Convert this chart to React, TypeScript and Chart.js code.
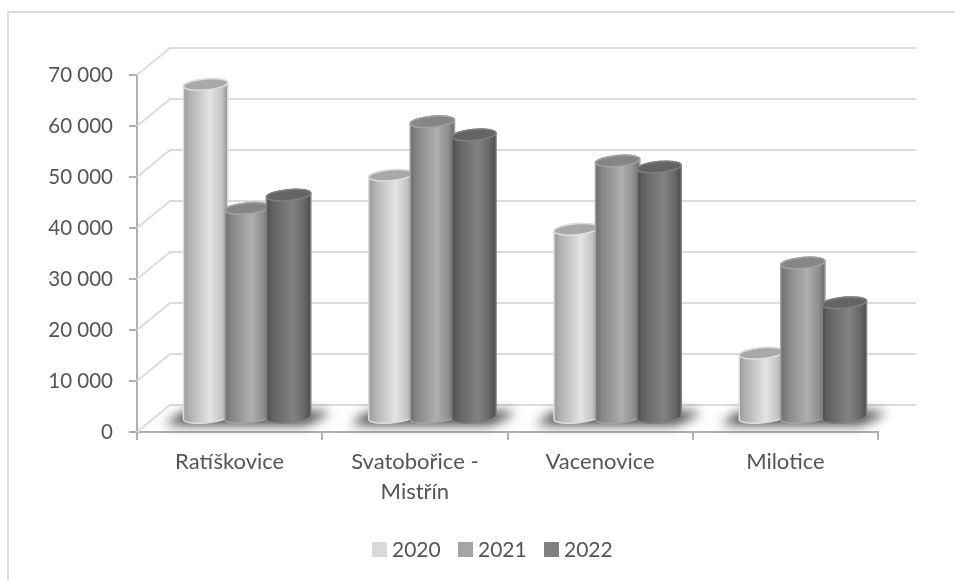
import React, { useEffect, useRef } from "react";
import { Chart, registerables } from "chart.js";

Chart.register(...registerables);

const categories = ["Ratíškovice", ["Svatobořice -", "Mistřín"], "Vacenovice", "Milotice"];
const years = ["2020", "2021", "2022"];
const values2020 = [65500, 47700, 37100, 12800];
const values2021 = [41200, 58200, 50500, 30500];
const values2022 = [43800, 55600, 49300, 22700];

const legendColors = ["#d9d9d9", "#a5a5a5", "#7f7f7f"];
const capColors = ["#a8a8a8", "#868686", "#646464"];
const rimColors = ["#dedede", "#a3a3a3", "#808080"];
const bodyStops: [number, string][][] = [
  [[0, "#9a9a9a"], [0.14, "#b0b0b0"], [0.6, "#e4e4e4"], [0.86, "#c4c4c4"], [1, "#929292"]],
  [[0, "#6c6c6c"], [0.14, "#858585"], [0.6, "#afafaf"], [0.86, "#8e8e8e"], [1, "#6a6a6a"]],
  [[0, "#4f4f4f"], [0.14, "#626262"], [0.6, "#838383"], [0.86, "#666666"], [1, "#4c4c4c"]],
];

const TEXT_COLOR = "#555555";
const DEPTH_X = 33;
const DEPTH_Y = 27;
const TILT = -0.09;
const CAP_RY = 5.5;

// Perspective walls, column shadows, cylinders and the legend row.
const cylinders = {
  id: "cylinders",
  beforeDatasetDraw() {
    return false;
  },
  beforeDatasetsDraw(chart: any) {
    const { ctx, chartArea, scales } = chart;
    ctx.save();
    ctx.strokeStyle = "#dcdcdc";
    ctx.lineWidth = 2;
    ctx.beginPath();
    ctx.moveTo(8, 580);
    ctx.lineTo(8, 12);
    ctx.lineTo(955, 12);
    ctx.stroke();
    scales.y.ticks.forEach((t: any) => {
      const y = scales.y.getPixelForValue(t.value);
      ctx.beginPath();
      ctx.moveTo(chartArea.left, y);
      ctx.lineTo(chartArea.left + DEPTH_X, y - DEPTH_Y);
      ctx.lineTo(chartArea.right + DEPTH_X + 5, y - DEPTH_Y);
      ctx.stroke();
    });
    ctx.restore();
  },
  afterDatasetsDraw(chart: any) {
    const { ctx } = chart;
    const metas = years.map((_, i) => chart.getDatasetMeta(i));
    const shiftX = DEPTH_X / 2 + 1;
    const shiftY = -DEPTH_Y / 2;

    categories.forEach((_, c) => {
      const first = metas[0].data[c];
      const last = metas[2].data[c];
      const left = first.x - first.width / 2 + shiftX;
      const right = last.x + last.width / 2 + shiftX;
      const base = first.base + shiftY;
      ctx.save();
      ctx.filter = "blur(6px)";
      ctx.fillStyle = "#333333";
      ctx.beginPath();
      ctx.moveTo(left - 20, base + 7);
      ctx.lineTo(left - 2, base - 5);
      ctx.lineTo(right + 17, base - 6);
      ctx.lineTo(right + 19, base - 3);
      ctx.lineTo(right - 4, base + 7);
      ctx.closePath();
      ctx.fill();
      ctx.restore();
    });

    categories.forEach((_, c) => {
      metas.forEach((meta: any, s: number) => {
        const bar = meta.data[c];
        const cx = bar.x + shiftX;
        const rx = bar.width / 2 + 1.5;
        const topY = bar.y + shiftY;
        const baseY = bar.base + shiftY;
        const dx = rx * Math.cos(TILT);
        const dy = rx * Math.sin(TILT);

        const grad = ctx.createLinearGradient(cx - rx, 0, cx + rx, 0);
        bodyStops[s].forEach(([o, col]) => grad.addColorStop(o, col));

        ctx.save();
        ctx.lineWidth = 1.5;
        ctx.strokeStyle = rimColors[s];
        ctx.fillStyle = grad;
        ctx.beginPath();
        ctx.moveTo(cx - dx, topY - dy);
        ctx.lineTo(cx - dx, baseY - dy);
        ctx.ellipse(cx, baseY, rx, CAP_RY, TILT, Math.PI, 0, true);
        ctx.lineTo(cx + dx, topY + dy);
        ctx.ellipse(cx, topY, rx, CAP_RY, TILT, 0, Math.PI, true);
        ctx.closePath();
        ctx.fill();
        ctx.stroke();

        ctx.fillStyle = capColors[s];
        ctx.beginPath();
        ctx.ellipse(cx, topY, rx, CAP_RY, TILT, 0, Math.PI * 2);
        ctx.fill();
        ctx.stroke();
        ctx.restore();
      });
    });

    // Legend row: swatch with the year beside it.
    ctx.save();
    ctx.font = "21px Lato";
    ctx.textBaseline = "middle";
    years.forEach((year, i) => {
      const x = 372 + i * 86;
      ctx.fillStyle = legendColors[i];
      ctx.fillRect(x, 542, 15, 15);
      ctx.fillStyle = TEXT_COLOR;
      ctx.fillText(year, x + 20, 550);
    });
    ctx.restore();
  },
};

export default function App() {
  const ref = useRef<HTMLCanvasElement>(null);

  useEffect(() => {
    document.body.style.margin = "0";
    const series = [values2020, values2021, values2022];
    const chart = new Chart(ref.current!, {
      type: "bar",
      data: {
        labels: categories as any,
        datasets: years.map((label, i) => ({
          label,
          data: series[i],
          backgroundColor: legendColors[i],
          borderWidth: 0,
          categoryPercentage: 0.672,
          barPercentage: 1,
        })),
      },
      options: {
        animation: false,
        responsive: false,
        layout: { padding: { left: 0, right: 77, top: 75, bottom: 50 } },
        plugins: {
          tooltip: { enabled: false },
          legend: { display: false },
        },
        scales: {
          x: {
            afterFit: (s: any) => {
              s.height = 98;
            },
            border: { color: "#b0b0b0", width: 2 },
            grid: { drawOnChartArea: false, color: "#b0b0b0", lineWidth: 2, tickLength: 8 },
            ticks: {
              autoSkip: false,
              maxRotation: 0,
              padding: 7,
              color: TEXT_COLOR,
              font: { family: "Lato", size: 22, lineHeight: 1.37 },
            },
          },
          y: {
            min: 0,
            max: 70000,
            afterFit: (s: any) => {
              s.width = 137;
            },
            border: { color: "#b0b0b0", width: 2 },
            grid: { drawOnChartArea: false, color: "#b0b0b0", lineWidth: 2, tickLength: 8 },
            ticks: {
              stepSize: 10000,
              padding: 16,
              color: TEXT_COLOR,
              font: { family: "Lato", size: 20.5 },
              callback: (v: any) => (v === 0 ? "0" : `${v / 1000} 000`),
            },
          },
        },
      },
      plugins: [cylinders as any],
    });
    return () => chart.destroy();
  }, []);

  return <canvas ref={ref} width={955} height={580} style={{ display: "block" }} />;
}
